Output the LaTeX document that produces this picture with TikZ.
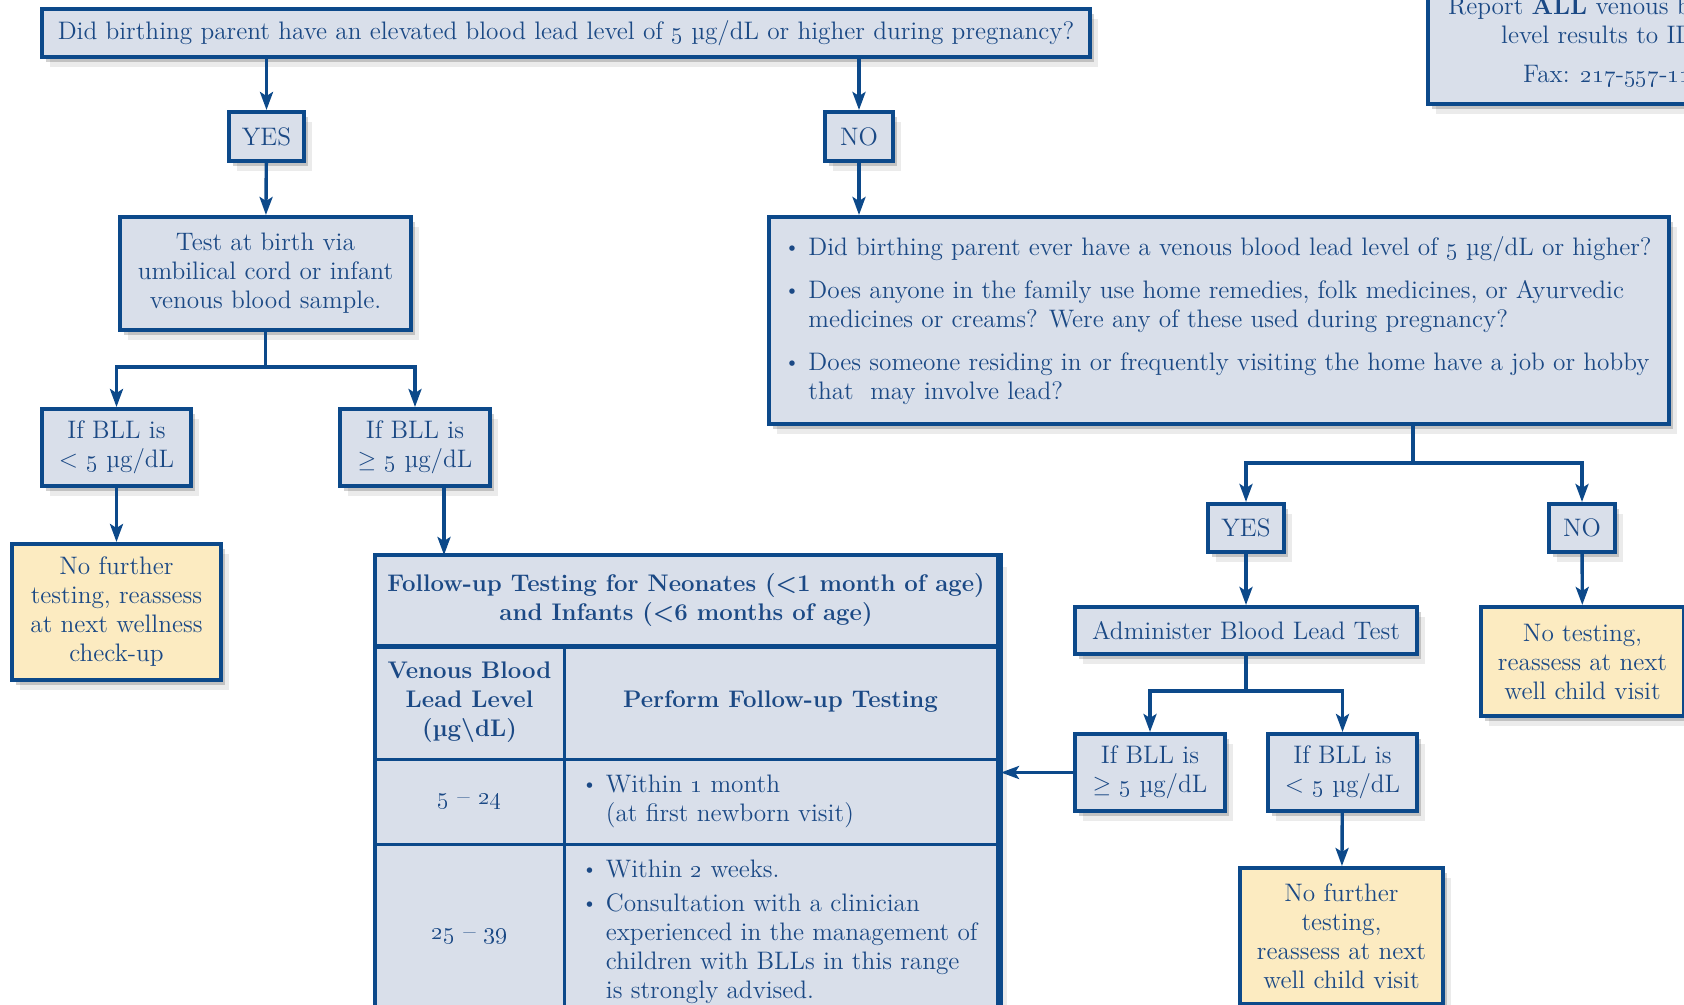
\documentclass[tikz,border=0pt]{standalone}
\usetikzlibrary{arrows.meta,shadows}
\definecolor{leadblue}{RGB}{12,73,138}
\definecolor{boxfill}{RGB}{217,223,234}
\definecolor{notefill}{RGB}{252,235,193}
\definecolor{inkblue}{RGB}{27,73,133}
\newcommand{\os}[1]{\oldstylenums{#1}}
\newcommand{\bul}{\makebox[10.5pt][l]{\hspace{-1.5pt}\raisebox{.15ex}{\scalebox{.8}{\textbullet}}}}
\newcommand{\boxfont}{\fontsize{12.65}{14.5}\selectfont}
\tikzset{
  shadowed/.style={drop shadow={shadow xshift=2pt,shadow yshift=-2.5pt,opacity=.18,fill=black},
                   drop shadow={shadow xshift=4pt,shadow yshift=-5pt,opacity=.08,fill=black}},
  box/.style={draw=leadblue,line width=2pt,fill=boxfill,text=inkblue,align=center,inner sep=0pt,
              font=\boxfont,shadowed},
  note/.style={box,fill=notefill},
  txt/.style={text=inkblue,align=left,inner sep=0pt,font=\boxfont},
  cell/.style={draw=leadblue,line width=1.5pt,fill=boxfill,text=inkblue,align=center,inner sep=0pt,
               font=\boxfont},
  headcell/.style={cell,font=\fontsize{12}{14.5}\selectfont\bfseries},
  arr/.style={draw=leadblue,line width=1.7pt,-{Stealth[length=9pt,width=6.5pt,inset=2pt]}},
  link/.style={draw=leadblue,line width=1.7pt}
}
\begin{document}
\begin{tikzpicture}[x=0.5pt,y=-0.5pt]
  \useasboundingbox (0,0) rectangle (1684,1005);
  \clip (0,0) rectangle (1684,1005);

  \node[box,minimum width=524pt,minimum height=24pt] (top) at (566,33)
    {Did birthing parent have an elevated blood lead level of \os{5}~µg/dL or higher during pregnancy?};
  \node[box,minimum width=37.5pt,minimum height=24.5pt] (yes1) at (266.5,136.5) {YES};
  \node[box,minimum width=34pt,minimum height=24.5pt] (no1) at (859,136.5) {NO};
  \node[box,minimum width=145.5pt,minimum height=56.5pt] (test) at (265.5,273.5)
    {Test at birth via\\umbilical cord or infant\\venous blood sample.};
  \node[box,minimum width=74.5pt,minimum height=38.5pt] (lt1) at (116.5,447.5) {If BLL is\\< \os{5}~µg/dL};
  \node[box,minimum width=75pt,minimum height=38.5pt] (ge1) at (415,447.5) {If BLL is\\$\geq$ \os{5}~µg/dL};
  \node[note,minimum width=104.5pt,minimum height=68pt] (yel1) at (116.5,612)
    {No further\\testing, reassess\\at next wellness\\check-up};

  \node[box,minimum width=311pt,minimum height=240pt,anchor=north west] (tab) at (375,555) {};
  \node[headcell,minimum width=311pt,minimum height=45pt] (thead) at (686,600)
    {Follow-up Testing for Neonates (<1 month of age)\\and Infants (<6 months of age)};
  \node[headcell,minimum width=94.5pt,minimum height=57pt] (vbll) at (469.5,702)
    {Venous Blood\\Lead Level\\(µg\textbackslash dL)};
  \node[headcell,minimum width=216.5pt,minimum height=57pt] (pfut) at (780.5,702) {Perform Follow-up Testing};
  \node[cell,minimum width=94.5pt,minimum height=42.5pt] (lvla) at (469.5,801.5) {\os{5} -- \os{24}};
  \node[cell,minimum width=216.5pt,minimum height=42.5pt] (acta) at (780.5,801.5) {};
  \node[txt,anchor=west] (actatxt) at ([xshift=11pt]acta.west)
    {\bul Within \os{1} month\\\hspace*{10.5pt}(at first newborn visit)};
  \node[cell,minimum width=94.5pt,minimum height=93pt] (lvlb) at (469.5,937) {\os{25} -- \os{39}};
  \node[cell,minimum width=216.5pt,minimum height=93pt] (actb) at (780.5,937) {};
  \node[txt,anchor=north west] (actbtxt) at ([xshift=11pt,yshift=-8.3pt]actb.north west)
    {\bul Within \os{2} weeks.\\[2.5pt]\bul Consultation with a clinician\\\hspace*{10.5pt}experienced in the management of\\\hspace*{10.5pt}children with BLLs in this range\\\hspace*{10.5pt}is strongly advised.};
  \draw[leadblue,line width=2pt] (tab.north west) rectangle (tab.south east);
  \draw[leadblue,line width=2pt] (thead.south west) -- (thead.south east);

  \node[box,minimum width=450pt,minimum height=103.5pt] (quest) at (1219,320.5) {};
  \node[txt,anchor=west] (questtxt) at ([xshift=10pt]quest.west)
    {\bul Did birthing parent ever have a venous blood lead level of \os{5}~µg/dL or higher?\\[7pt]
     \bul Does anyone in the family use home remedies, folk medicines, or Ayurvedic\\
     \hspace*{10.5pt}medicines or creams? Were any of these used during pregnancy?\\[7pt]
     \bul Does someone residing in or frequently visiting the home have a job or hobby\\
     \hspace*{10.5pt}that\ \ may involve lead?};
  \node[box,minimum width=38pt,minimum height=24pt] (yes2) at (1246,528) {YES};
  \node[box,minimum width=33pt,minimum height=24pt] (no2) at (1582,528) {NO};
  \node[box,minimum width=171pt,minimum height=23.5pt] (adm) at (1246,630.5) {Administer Blood Lead Test};
  \node[note,minimum width=101.5pt,minimum height=54.5pt] (yel3) at (1582.5,661.5)
    {No testing,\\reassess at next\\well child visit};
  \node[box,minimum width=75pt,minimum height=38.5pt] (ge2) at (1150,772.5) {If BLL is\\$\geq$ \os{5}~µg/dL};
  \node[box,minimum width=74.5pt,minimum height=38.5pt] (lt2) at (1342.5,772.5) {If BLL is\\< \os{5}~µg/dL};
  \node[note,minimum width=101.5pt,minimum height=68pt] (yel2) at (1341.5,936)
    {No further\\testing,\\reassess at next\\well child visit};
  \node[box,anchor=south west,inner xsep=10pt,inner ysep=8.5pt] (report) at (1426,106)
    {Report \textbf{ALL} venous blood lead\\level results to IDPH.\\[5pt]Fax: \os{217}-\os{557}-\os{1188}};

  \draw[arr] (top.south -| yes1.north) -- (yes1.north);
  \draw[arr] (top.south -| no1.north) -- (no1.north);
  \draw[arr] (yes1) -- (test);
  \draw[arr] (no1.south) -- (no1.south |- quest.north);
  \coordinate (fork1) at (265.5,367);
  \draw[link] (test.south) -- (fork1);
  \draw[arr] (fork1) -| (lt1.north);
  \draw[arr] (fork1) -| (ge1.north);
  \draw[arr] (lt1) -- (yel1);
  \draw[arr] ([xshift=14.5pt]ge1.south) -- ([xshift=14.5pt]ge1.south |- tab.north);
  \coordinate (fork2) at (1413,463);
  \draw[link] (quest.south -| fork2) -- (fork2);
  \draw[arr] (fork2) -| (yes2.north);
  \draw[arr] (fork2) -| (no2.north);
  \draw[arr] (yes2) -- (adm);
  \draw[arr] (no2) -- (yel3);
  \coordinate (fork3) at (1246,691);
  \draw[link] (adm.south) -- (fork3);
  \draw[arr] (fork3) -| (ge2.north);
  \draw[arr] (fork3) -| (lt2.north);
  \draw[arr] (ge2.west) -- (ge2.west -| tab.east);
  \draw[arr] (lt2) -- (yel2);
\end{tikzpicture}
\end{document}
